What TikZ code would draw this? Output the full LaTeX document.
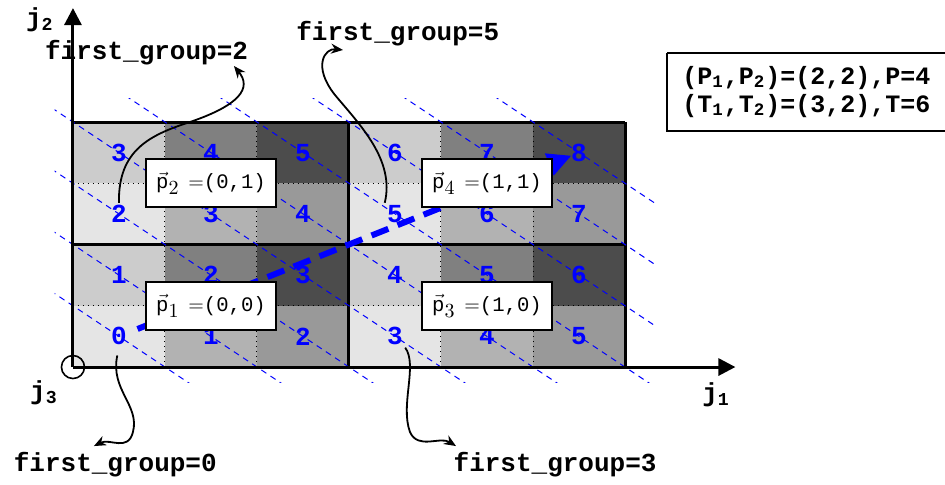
\documentclass[tikz,border=0pt]{standalone}
\usepackage{fontspec}
\usepackage{amsmath}
\setmonofont{Liberation Mono}
\usetikzlibrary{arrows.meta, positioning, calc}

% cell shades, indexed by (j1 mod 3)(j2 mod 2)
\colorlet{shade00}{black!10}
\colorlet{shade10}{black!30}
\colorlet{shade20}{black!40}
\colorlet{shade01}{black!20}
\colorlet{shade11}{black!50}
\colorlet{shade21}{black!70}

\newcommand{\pvec}[1]{$\vec{\text{\ttfamily p}}_{\textstyle #1}\,=$}

\begin{document}
\begin{tikzpicture}[x=46pt, y=30.625pt,
    cellnum/.style={text=blue, font=\ttfamily\bfseries\fontsize{13}{13}\selectfont, inner sep=1pt},
    pbox/.style={draw, fill=white, line width=0.8pt, minimum width=65pt, minimum height=24pt,
                 inner sep=2pt, font=\ttfamily\fontsize{10.3}{12}\selectfont},
    grouplbl/.style={font=\ttfamily\bfseries\fontsize{13}{13}\selectfont, inner sep=1pt},
    axlbl/.style={font=\ttfamily\bfseries\fontsize{13}{13}\selectfont, inner sep=1pt},
    curvearr/.style={-{Stealth[length=6pt, width=5pt]}, line width=0.9pt},
    diagline/.style={blue, line width=0.5pt, dash pattern=on 3pt off 2.5pt},
    flowarr/.style={-{Triangle[length=12pt, width=11pt]}, blue, line width=3pt, dash pattern=on 9pt off 5pt},
    axisarr/.style={-{Triangle[length=8.5pt, width=8.5pt]}, line width=1.5pt},
]
\useasboundingbox (-0.793,-1.910) rectangle (9.478,5.992);

% shaded cells
\foreach \i in {0,...,5} {
  \foreach \j in {0,...,3} {
    \pgfmathtruncatemacro{\ci}{mod(\i,3)}
    \pgfmathtruncatemacro{\cj}{mod(\j,2)}
    \fill[shade\ci\cj] (\i,\j) rectangle ++(1,1);
  }
}
% cell and tile borders
\foreach \x in {1,2,4,5} \draw[dotted, line width=0.5pt] (\x,0) -- (\x,4);
\foreach \y in {1,3} \draw[dotted, line width=0.5pt] (0,\y) -- (6,\y);
\foreach \x in {0,3,6} \draw[line width=1.5pt] (\x,0) -- (\x,4);
\foreach \y in {0,2,4} \draw[line width=1.5pt] (0,\y) -- (6,\y);

% hyperplanes j1+j2=k
\begin{scope}
  \clip (-0.2,-0.26) rectangle (6.32,4.38);
  \foreach \k in {1,...,9} \draw[diagline] (\k+0.5,-0.5) -- (\k-4.5,4.5);
\end{scope}

% group numbers
\foreach \i in {0,...,5} {
  \foreach \j in {0,...,3} {
    \pgfmathtruncatemacro{\v}{\i+\j}
    \node[cellnum] (c\i\j) at (\i+0.5,\j+0.5) {\v};
  }
}

\draw[flowarr, shorten <=4.5pt, shorten >=-1.5pt] (c00) -- (c53);

% processor tiles
\node[pbox] (p1) at (1.5,1) {\pvec{1}(0,0)};
\node[pbox] (p2) at (1.5,3) {\pvec{2}(0,1)};
\node[pbox] (p3) at (4.5,1) {\pvec{3}(1,0)};
\node[pbox] (p4) at (4.5,3) {\pvec{4}(1,1)};

% axes
\node[circle, draw, line width=0.8pt, minimum size=11.5pt, inner sep=0pt] (orig) at (0,0) {};
\coordinate (j1tip) at (7.2,0);
\coordinate (j2tip) at (0,5.86);
\draw[axisarr] (orig.center) -- (j1tip);
\draw[axisarr] (orig.center) -- (j2tip);
\node[axlbl] (j1lbl) at (6.99,-0.457) {j\textsubscript{1}};
\node[axlbl] (j2lbl) at (-0.36,5.665) {j\textsubscript{2}};
\node[axlbl] (j3lbl) at (-0.315,-0.424) {j\textsubscript{3}};

% info box (runs off the right edge)
\node[anchor=north west, text width=126pt, align=left, inner xsep=7.5pt,
      minimum height=38.5pt, font=\ttfamily\bfseries\fontsize{12.5}{14}\selectfont] (info) at (6.457,5.127)
     {(P\textsubscript{1},P\textsubscript{2})=(2,2),P=4\\(T\textsubscript{1},T\textsubscript{2})=(3,2),T=6};
\draw[line width=1pt] (info.north west) -- ++(4,0) (info.north west) -- (info.south west) -- ++(4,0);

% first group labels
\node[grouplbl] (fg0) at (0.46,-1.6) {first\_group=0};
\node[grouplbl] (fg3) at (5.24,-1.6) {first\_group=3};
\node[grouplbl] (fg2) at (0.80,5.13) {first\_group=2};
\node[grouplbl] (fg5) at (3.53,5.45) {first\_group=5};

\draw[curvearr, shorten <=4pt] (c00.south) .. controls (0.402,-0.375) and (0.728,-0.620) .. (0.652,-1.061)
      .. controls (0.598,-1.388) and (0.402,-1.159) .. (0.228,-1.290);
\draw[curvearr] (c30.south east) .. controls (3.75,0.033) and (3.554,-0.620) .. (3.663,-1.061)
      .. controls (3.75,-1.355) and (3.989,-1.127) .. (4.163,-1.290);
\draw[curvearr] (c02.north) .. controls (0.489,3.543) and (0.837,3.788) .. (1.272,4.0)
      .. controls (1.815,4.278) and (1.946,4.555) .. (1.75,4.914);
\draw[curvearr] (c32.north west) .. controls (3.5,3.38) and (3.12,3.95) .. (2.848,4.441)
      .. controls (2.598,4.914) and (2.739,5.208) .. (2.935,5.176);
\end{tikzpicture}
\end{document}
